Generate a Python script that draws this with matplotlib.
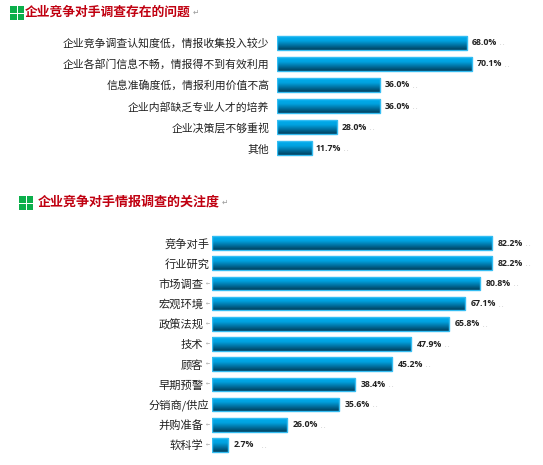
import numpy as np
import matplotlib
matplotlib.use('Agg')
import matplotlib.pyplot as plt
from matplotlib.colors import LinearSegmentedColormap
from matplotlib.patches import Rectangle

plt.rcParams['font.family'] = ['Noto Sans CJK SC', 'DejaVu Sans']

issue_labels = ['企业竞争调查认知度低，情报收集投入较少', '企业各部门信息不畅，情报得不到有效利用',
                '信息准确度低，情报利用价值不高', '企业内部缺乏专业人才的培养',
                '企业决策层不够重视', '其他']
issue_values = [68.0, 70.1, 36.0, 36.0, 28.0, 11.7]
# the source bars do not follow their printed numbers, so drawn lengths are read separately
issue_drawn = [68.0, 69.8, 36.8, 36.8, 21.5, 12.4]

focus_labels = ['竞争对手', '行业研究', '市场调查', '宏观环境', '政策法规', '技术',
                '顾客', '早期预警', '分销商/供应', '并购准备', '软科学']
focus_values = [82.2, 82.2, 80.8, 67.1, 65.8, 47.9, 45.2, 38.4, 35.6, 26.0, 2.7]
focus_drawn = [82.2, 82.2, 78.6, 74.2, 69.5, 58.4, 52.8, 41.9, 37.2, 22.0, 4.7]
# rows whose label ends in a paragraph mark in the source
focus_marked = ['市场调查', '宏观环境', '政策法规', '技术', '顾客', '早期预警', '并购准备', '软科学']

W, H = 543, 465
MARK = '#9a9a9a'
bar_cmap = LinearSegmentedColormap.from_list('bar', ['#00AEEF', '#00A2DF', '#0070A0', '#003F5C'])
gradient = np.linspace(0, 1, 64).reshape(-1, 1)


def px_axes(fig, left, right, top, bottom):
    return fig.add_axes([left / W, 1 - bottom / H, (right - left) / W, (bottom - top) / H])


def draw_bars(ax, labels, values, drawn, xmax, pad, bar_height, label_size, gap, marked=()):
    pos = np.arange(len(labels))
    bars = ax.barh(pos, drawn, height=bar_height, facecolor='none',
                   edgecolor='#35BDF2', linewidth=1.0, zorder=3)
    for bar in bars:
        x0, y0 = bar.get_x(), bar.get_y()
        im = ax.imshow(gradient, cmap=bar_cmap, aspect='auto', zorder=2,
                       extent=(x0, x0 + bar.get_width(), y0 + bar.get_height(), y0))
        im.set_clip_path(bar)
    ax.set_xlim(0, xmax)
    ax.set_ylim(len(labels) - 0.5, -0.5)
    ax.set_yticks(pos, labels, fontsize=label_size, color='#222222')
    ax.tick_params(axis='y', length=0, pad=pad)
    ax.set_xticks([])
    for side in ax.spines.values():
        side.set_visible(False)
    ax.patch.set_alpha(0)

    ticks = ax.yaxis.get_major_ticks()
    for y, name, tick in zip(pos, labels, ticks):
        if name in marked:
            tick.set_pad(pad + 4.5)
            ax.annotate('←', (0, y), xytext=(-1.5, 0), textcoords='offset points', va='center',
                        ha='right', fontsize=3.5, color=MARK, family=['DejaVu Sans'],
                        annotation_clip=False)
    for y, d, v in zip(pos, drawn, values):
        ax.annotate(f'{v:.1f}%', (d, y), xytext=(gap, 0), textcoords='offset points',
                    va='center', ha='left', fontsize=6.3, fontweight='bold',
                    color='#222222', family=['Open Sans'])
        ax.annotate('. .', (d, y), xytext=(gap + 20.5, -1), textcoords='offset points',
                    va='center', ha='left', fontsize=3.5, color=MARK, family=['DejaVu Sans'])


def draw_heading(fig, x, y, text, text_gap, size):
    # four green squares, then the red heading
    cell = 6.6
    for dx, dy in [(0, 0), (1, 0), (0, 1), (1, 1)]:
        fig.patches.append(Rectangle(((x + dx * (cell + 1)) / W, 1 - (y + (dy + 1) * cell + dy) / H),
                                     cell / W, cell / H, transform=fig.transFigure,
                                     facecolor='#0BAF4B', edgecolor='none'))
    t = fig.text((x + text_gap) / W, 1 - (y + 6) / H, text, fontsize=size, fontweight='bold',
                 color='#C00010', va='center', ha='left')
    end = t.get_window_extent(fig.canvas.get_renderer()).x1
    fig.text((end + 2) / W, 1 - (y + 6.5) / H, '↵', fontsize=5.5, color=MARK,
             va='center', ha='left', family=['DejaVu Sans'])


fig = plt.figure(figsize=(W / 100, H / 100), dpi=100, facecolor='white')

ax_top = px_axes(fig, 277, 543, 32, 159)
draw_bars(ax_top, issue_labels, issue_values, issue_drawn, 266 / 2.8, 5.5, 0.66, 7.8, 3)

ax_bottom = px_axes(fig, 212, 543, 233, 455)
draw_bars(ax_bottom, focus_labels, focus_values, focus_drawn, 331 / 3.41, 1.8, 0.68, 8.1, 4,
          marked=focus_marked)

draw_heading(fig, 10, 6, '企业竞争对手调查存在的问题', 15, 9.2)
draw_heading(fig, 19, 196, '企业竞争对手情报调查的关注度', 19, 9.4)

fig.savefig('out.png', dpi=100)
